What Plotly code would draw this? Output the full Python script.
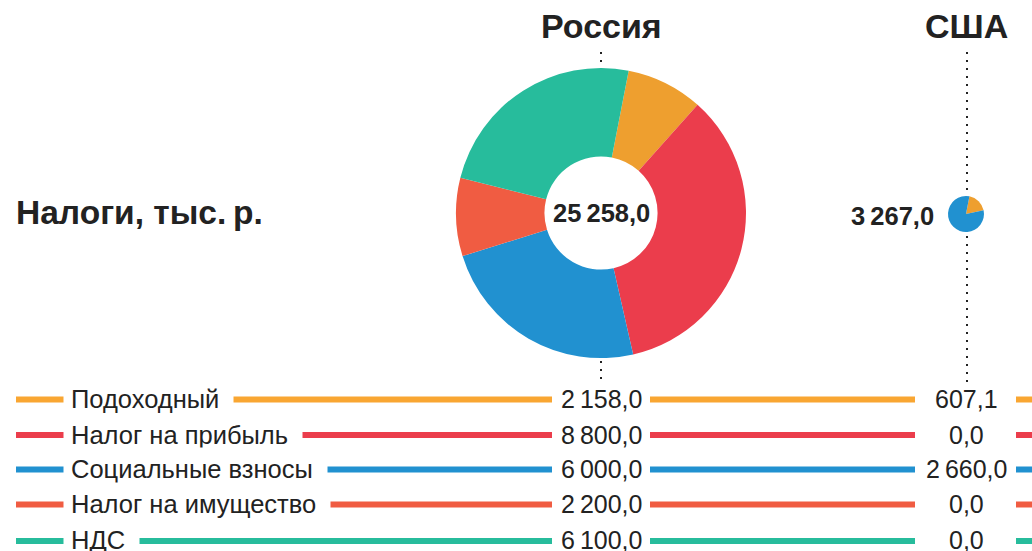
import plotly.graph_objects as go

# ---- data ----
categories = ["Подоходный", "Налог на прибыль", "Социальные взносы", "Налог на имущество", "НДС"]
countries = ["Россия", "США"]
russia = [2158.0, 8800.0, 6000.0, 2200.0, 6100.0]
usa = [607.1, 0.0, 2660.0, 0.0, 0.0]
totals = [25258.0, 3267.0]
pie_colors = ["#EE9F2F", "#EB3D4C", "#2191D0", "#F05C42", "#27BC9C"]
line_colors = ["#F9A632", "#EB3D4C", "#2191D0", "#F05C42", "#27BC9C"]

W, H = 1032, 551
FONT = "Liberation Sans"
DARK = "#222222"


def fx(px):
    return px / W


def fy(py):
    return 1 - py / H


def fmt(v):
    s = f"{v:,.1f}"
    return s.replace(",", "\u2009").replace(".", ",")


fig = go.Figure()

# Russia donut
fig.add_trace(go.Pie(
    labels=categories, values=russia, sort=False, direction="clockwise", rotation=11,
    hole=0.39, marker=dict(colors=pie_colors, line=dict(width=0)),
    textinfo="none", hoverinfo="label+value", showlegend=False,
    domain=dict(x=[fx(456), fx(746)], y=[fy(358), fy(68)]),
))
# USA pie
fig.add_trace(go.Pie(
    labels=categories, values=usa, sort=False, direction="clockwise", rotation=11,
    marker=dict(colors=pie_colors, line=dict(width=0)),
    textinfo="none", hoverinfo="label+value", showlegend=False,
    domain=dict(x=[fx(948), fx(984)], y=[fy(232), fy(196)]),
))

shapes = []
# dotted guide lines
dot = dict(color=DARK, width=2, dash="2px,6px")
for (x, y0, y1) in [(601, 52, 66), (601, 361, 382), (967, 52, 195), (967, 236, 382)]:
    shapes.append(dict(type="line", xref="paper", yref="paper",
                       x0=fx(x), x1=fx(x), y0=fy(y0), y1=fy(y1), line=dot))

annotations = []
row_y = [399.5, 435, 469.5, 504.5, 541]
for i, cat in enumerate(categories):
    y = row_y[i]
    ty = y - 0.5 if i < len(categories) - 1 else y - 1.5
    lc = line_colors[i]
    for (a, b) in [(16, 552), (650, 915), (1016, 1040)]:
        shapes.append(dict(type="line", xref="paper", yref="paper",
                           x0=fx(a), x1=fx(b), y0=fy(y), y1=fy(y),
                           line=dict(color=lc, width=6), layer="below"))
    # label with white background covering the line
    annotations.append(dict(xref="paper", yref="paper", x=fx(63), y=fy(ty),
                            xanchor="left", yanchor="middle", text=cat + "\u00a0", showarrow=False,
                            bgcolor="white", borderpad=7,
                            font=dict(family=FONT, size=25.5, color=DARK)))
    annotations.append(dict(xref="paper", yref="paper", x=fx(601), y=fy(ty),
                            xanchor="center", yanchor="middle", text=fmt(russia[i]), showarrow=False,
                            font=dict(family=FONT, size=25, color=DARK)))
    annotations.append(dict(xref="paper", yref="paper", x=fx(966), y=fy(ty),
                            xanchor="center", yanchor="middle", text=fmt(usa[i]), showarrow=False,
                            font=dict(family=FONT, size=25, color=DARK)))

# titles
for name, x in zip(countries, [601, 966]):
    annotations.append(dict(xref="paper", yref="paper", x=fx(x), y=fy(26),
                            xanchor="center", yanchor="middle", text=name, showarrow=False,
                            font=dict(family=FONT, size=34, color=DARK, weight=700)))
annotations.append(dict(xref="paper", yref="paper", x=fx(14), y=fy(212),
                        xanchor="left", yanchor="middle", text="Налоги, тыс.\u2009р.", showarrow=False,
                        font=dict(family=FONT, size=33.5, color=DARK, weight=700)))
annotations.append(dict(xref="paper", yref="paper", x=fx(601), y=fy(213),
                        xanchor="center", yanchor="middle", text=fmt(totals[0]), showarrow=False,
                        font=dict(family=FONT, size=25.5, color=DARK, weight=700)))
annotations.append(dict(xref="paper", yref="paper", x=fx(936), y=fy(216),
                        xanchor="right", yanchor="middle", text=fmt(totals[1]), showarrow=False,
                        font=dict(family=FONT, size=25.5, color=DARK, weight=700)))

fig.update_layout(
    width=W, height=H, margin=dict(l=0, r=0, t=0, b=0),
    paper_bgcolor="white", plot_bgcolor="white",
    shapes=shapes, annotations=annotations, showlegend=False,
)

fig.write_html("out.html")
